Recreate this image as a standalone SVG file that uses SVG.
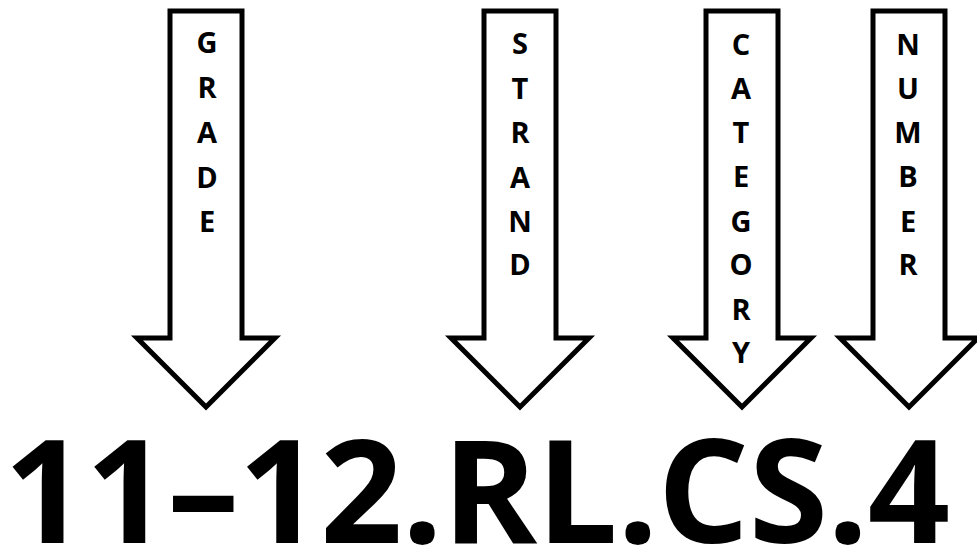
<svg xmlns="http://www.w3.org/2000/svg" width="977" height="546" viewBox="0 0 977 546">
  <style>
    .arrow { fill: #ffffff; stroke: #000000; stroke-width: 5; stroke-linejoin: miter; }
    .lbl { font-family: "Open Sans", "Liberation Sans", sans-serif; font-weight: 700; font-size: 29px; fill: #000000; text-anchor: middle; }
    .code { font-family: "Open Sans", "Liberation Sans", sans-serif; font-weight: 700; font-size: 144px; fill: #000000; }
  </style>
  <defs>
    <!-- block arrow pointing down, centred on x=0 -->
    <path id="downArrow" d="M -36 11 H 36 V 338 H 69 L 0 407 L -69 338 H -36 Z"/>
  </defs>
  <rect width="977" height="546" fill="#ffffff"/>

  <g id="connectors">
    <use href="#downArrow" class="arrow" transform="translate(206,0)"/>
    <use href="#downArrow" class="arrow" transform="translate(520,0)"/>
    <use href="#downArrow" class="arrow" transform="translate(742,0)"/>
    <use href="#downArrow" class="arrow" transform="translate(909,0)"/>
  </g>

  <g id="grade">
    <text class="lbl" x="207" y="53">G</text>
    <text class="lbl" x="207" y="98">R</text>
    <text class="lbl" x="207" y="143">A</text>
    <text class="lbl" x="207" y="188">D</text>
    <text class="lbl" x="207" y="232">E</text>
  </g>
  <g id="strand">
    <text class="lbl" x="520" y="54">S</text>
    <text class="lbl" x="520" y="99">T</text>
    <text class="lbl" x="520" y="143">R</text>
    <text class="lbl" x="520" y="188">A</text>
    <text class="lbl" x="520" y="232">N</text>
    <text class="lbl" x="520" y="275">D</text>
  </g>
  <g id="category">
    <text class="lbl" x="741" y="55">C</text>
    <text class="lbl" x="741" y="99">A</text>
    <text class="lbl" x="741" y="143">T</text>
    <text class="lbl" x="741" y="187">E</text>
    <text class="lbl" x="741" y="232">G</text>
    <text class="lbl" x="741" y="275">O</text>
    <text class="lbl" x="741" y="320">R</text>
    <text class="lbl" x="741" y="363">Y</text>
  </g>
  <g id="number">
    <text class="lbl" x="908" y="55">N</text>
    <text class="lbl" x="908" y="99">U</text>
    <text class="lbl" x="908" y="143">M</text>
    <text class="lbl" x="908" y="187">B</text>
    <text class="lbl" x="908" y="232">E</text>
    <text class="lbl" x="908" y="275">R</text>
  </g>

  <g id="standard-code">
    <text class="code" x="4" y="543" textLength="946" lengthAdjust="spacing">11–12.RL.CS.4</text>
  </g>
</svg>
